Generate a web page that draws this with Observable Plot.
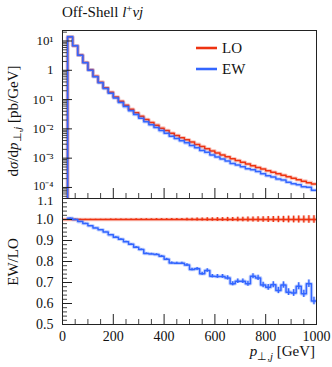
<!DOCTYPE html>
<html><head><meta charset="utf-8">
<script src="https://cdn.jsdelivr.net/npm/d3@7"></script>
<script src="https://cdn.jsdelivr.net/npm/@observablehq/plot@0.6"></script>
<style>
html,body{margin:0;padding:0;background:#fff;}
#root{position:relative;width:332px;height:367px;font-family:"Liberation Serif",serif;color:#111;overflow:hidden;}
.abs{position:absolute;white-space:nowrap;line-height:1;}
.svgbox{position:absolute;left:0;}
sub{font-size:72%;vertical-align:-0.35em;line-height:0;}
sup{font-size:72%;vertical-align:0.45em;line-height:0;}
</style></head><body><div id="root"></div>
<script>
// ---- data ----
const binEdges = [20,40,60,80,100,120,140,160,180,200,220,240,260,280,300,320,340,360,380,400,420,440,460,480,500,520,540,560,580,600,620,640,660,680,700,720,740,760,780,800,820,840,860,880,900,920,940,960,980,1000];
const loValues = [13.8,6.9,3.3,1.84,1.04,0.63,0.394,0.254,0.178,0.123,
  0.0881,0.0644,0.0470,0.0355,0.0271,0.0209,0.0165,0.0134,0.0106,0.00881,
  0.00713,0.00596,0.00497,0.00425,0.00353,0.00295,0.00248,0.00209,0.00177,0.00151,
  0.00129,0.00111,0.000955,0.000828,0.000721,0.000630,0.000551,0.000483,0.000425,0.000374,
  0.000330,0.000292,0.000259,0.000231,0.000206,0.000183,0.000164,0.000146,0.000131];
const ewOverLo = [1.006,1.000,0.990,0.981,0.970,0.960,0.951,0.941,0.927,0.916,
  0.906,0.894,0.882,0.868,0.857,0.838,0.836,0.833,0.825,0.811,
  0.793,0.792,0.792,0.783,0.762,0.765,0.742,0.757,0.730,0.729,
  0.729,0.722,0.694,0.706,0.706,0.694,0.730,0.722,0.688,0.677,
  0.689,0.662,0.688,0.654,0.650,0.682,0.646,0.694,0.612];
const relErr = [0.001,0.001,0.001,0.001,0.001,0.001,0.001,0.001,0.002,0.002,
  0.002,0.002,0.002,0.003,0.003,0.003,0.003,0.004,0.004,0.004,
  0.005,0.005,0.005,0.006,0.006,0.007,0.007,0.008,0.008,0.009,
  0.009,0.010,0.010,0.011,0.011,0.012,0.012,0.013,0.013,0.014,
  0.014,0.015,0.015,0.016,0.016,0.017,0.017,0.018,0.018];
const seriesNames = ["LO","EW"];
const xTickValues = [0,200,400,600,800,1000];
const upperTickValues = [1e-4,1e-3,1e-2,1e-1,1,10];
const upperTickLabels = ["10\u207B\u2074","10\u207B\u00B3","10\u207B\u00B2","10\u207B\u00B9","1","10\u00B9"];
const lowerTickValues = [0.5,0.6,0.7,0.8,0.9,1.0,1.1];
const lowerTickLabels = ["0.5","0.6","0.7","0.8","0.9","1.0","1.1"];

const RED = "#ee3311", BLUE = "#3366ff";
const FONT = "Liberation Serif, serif";

// ---- derived ----
const ewValues = loValues.map((v,i)=>v*ewOverLo[i]);
function steps(vals, startLow){
  const pts = [];
  if (startLow) pts.push({x: binEdges[0], y: 1e-7});
  vals.forEach((v,i)=>{ pts.push({x: binEdges[i], y: v}); pts.push({x: binEdges[i+1], y: v}); });
  return pts;
}
const centers = binEdges.slice(0,-1).map((e,i)=>(e+binEdges[i+1])/2);
const loPts = steps(loValues, true), ewPts = steps(ewValues, true), ratioPts = steps(ewOverLo, false);
const errLo = centers.map((c,i)=>({x:c, y1:1-relErr[i], y2:1+relErr[i]}));
const errEw = centers.map((c,i)=>({x:c, y1:ewOverLo[i]-relErr[i], y2:ewOverLo[i]+relErr[i]}));

const xMinor = d3.range(0,1001,50).filter(v=>v%200!==0);
const upMinor = [];
for (let e=-5;e<=1;e++) for (let m=2;m<=9;m++) upMinor.push(m*Math.pow(10,e));
const lowMinor = d3.range(50,111,2).map(v=>v/100).filter(v=>Math.round(v*100)%10!==0);

const W = 332, ML = 62, MR = 16, PW = W-ML-MR;
const UH = 199, UT = 30, UB = 1, UPH = UH-UT-UB;
const LH = 169, LT = 0, LB = 43, LPH = LH-LT-LB;

function lineMarks(pts, color, opts={}){
  return [
    Plot.line(pts,{x:"x",y:"y",stroke:color,strokeWidth:3.6,strokeOpacity:0.28,clip:true,...opts}),
    Plot.line(pts,{x:"x",y:"y",stroke:color,strokeWidth:1.5,clip:true,...opts})
  ];
}

const upper = Plot.plot({
  width: W, height: UH, marginLeft: ML, marginRight: MR, marginTop: UT, marginBottom: UB,
  style: {fontFamily: FONT, fontSize: "13px", color: "#111", background: "transparent", overflow: "visible"},
  x: {domain: [0,1000], axis: null},
  y: {type: "log", domain: [4.2e-5, 22.8], axis: null},
  marks: [
    ...lineMarks(loPts, RED),
    ...lineMarks(ewPts, BLUE),
    Plot.tickY(upperTickValues, {y: d=>d, insetRight: PW-10, stroke: "#222"}),
    Plot.tickY(upMinor.filter(v=>v>4.2e-5 && v<22.8), {y: d=>d, insetRight: PW-5, stroke: "#444"}),
    Plot.tickX(xTickValues, {x: d=>d, insetTop: UPH-10, stroke: "#222"}),
    Plot.tickX(xMinor, {x: d=>d, insetTop: UPH-5, stroke: "#444"}),
    Plot.axisY(upperTickValues.slice(1), {label: null, tickSize: 0, tickPadding: 9, fontSize: 13, tickFormat: d=>upperTickLabels[upperTickValues.indexOf(d)]}),
    Plot.axisY(upperTickValues.slice(0,1), {label: null, tickSize: 0, tickPadding: 9, fontSize: 12, dy: -1.5, tickFormat: d=>upperTickLabels[upperTickValues.indexOf(d)]}),
    Plot.frame({stroke: "#222"})
  ]
});

const lower = Plot.plot({
  width: W, height: LH, marginLeft: ML, marginRight: MR, marginTop: LT, marginBottom: LB,
  style: {fontFamily: FONT, fontSize: "13px", color: "#111", background: "transparent", overflow: "visible"},
  x: {domain: [0,1000], axis: null},
  y: {domain: [0.5,1.1], axis: null},
  marks: [
    Plot.ruleY([1], {stroke: RED, strokeWidth: 3.6, strokeOpacity: 0.28}),
    Plot.ruleY([1], {stroke: RED, strokeWidth: 1.5}),
    Plot.ruleX(errLo, {x: "x", y1: "y1", y2: "y2", stroke: RED, strokeWidth: 3, strokeOpacity: 0.28}),
    Plot.ruleX(errLo, {x: "x", y1: "y1", y2: "y2", stroke: RED, strokeWidth: 1.3}),
    ...lineMarks(ratioPts, BLUE),
    Plot.ruleX(errEw, {x: "x", y1: "y1", y2: "y2", stroke: BLUE, strokeWidth: 3, strokeOpacity: 0.28}),
    Plot.ruleX(errEw, {x: "x", y1: "y1", y2: "y2", stroke: BLUE, strokeWidth: 1.3}),
    Plot.tickY(lowerTickValues, {y: d=>d, insetRight: PW-10, stroke: "#222"}),
    Plot.tickY(lowMinor, {y: d=>d, insetRight: PW-5, stroke: "#444"}),
    Plot.tickX(xTickValues, {x: d=>d, insetTop: LPH-10, stroke: "#222"}),
    Plot.tickX(xMinor, {x: d=>d, insetTop: LPH-5, stroke: "#444"}),
    Plot.axisY(lowerTickValues.slice(0,-1), {label: null, tickSize: 0, tickPadding: 9, fontSize: 14, tickFormat: d=>lowerTickLabels[lowerTickValues.indexOf(d)]}),
    Plot.axisY(lowerTickValues.slice(-1), {label: null, tickSize: 0, tickPadding: 9, fontSize: 13, dy: 2, tickFormat: d=>lowerTickLabels[lowerTickValues.indexOf(d)]}),
    Plot.axisX(xTickValues, {label: null, tickSize: 0, tickPadding: 7, fontSize: 14, tickFormat: d=>String(d)}),
    Plot.frame({stroke: "#222"})
  ]
});

const root = document.getElementById("root");
const b1 = document.createElement("div"); b1.className="svgbox"; b1.style.top="0px"; b1.appendChild(upper); root.appendChild(b1);
const b2 = document.createElement("div"); b2.className="svgbox"; b2.style.top="198px"; b2.appendChild(lower); root.appendChild(b2);

function addHTML(html, css){
  const d = document.createElement("div"); d.className="abs"; d.innerHTML = html;
  Object.assign(d.style, css); root.appendChild(d); return d;
}
// title
addHTML('Off-Shell <i>l</i><sup>+</sup><i>&nu;j</i>', {left:"62px", top:"5px", fontSize:"15px"});
// y labels
addHTML('d<i>&sigma;</i>/d<i>p</i><sub>&perp;,<i>j</i></sub> [pb/GeV]', {left:"13px", top:"121px", fontSize:"15px", transform:"translate(-50%,-50%) rotate(-90deg)"});
addHTML('EW/LO', {left:"13px", top:"262px", fontSize:"15px", transform:"translate(-50%,-50%) rotate(-90deg)"});
// x label
addHTML('<i>p</i><sub>&perp;,<i>j</i></sub> [GeV]', {right:"17px", top:"344px", fontSize:"15px"});
// legend
const legendColors = [RED, BLUE];
seriesNames.forEach((name,i)=>{
  const y = 48 + i*21;
  addHTML('', {left:"196px", top:(y-2)+"px", width:"21px", height:"4px", background:legendColors[i], opacity:"0.28"});
  addHTML('', {left:"196px", top:(y-0.75)+"px", width:"21px", height:"1.5px", background:legendColors[i]});
  addHTML(name, {left:"222px", top:(y-7)+"px", fontSize:"15px"});
});
</script></body></html>
